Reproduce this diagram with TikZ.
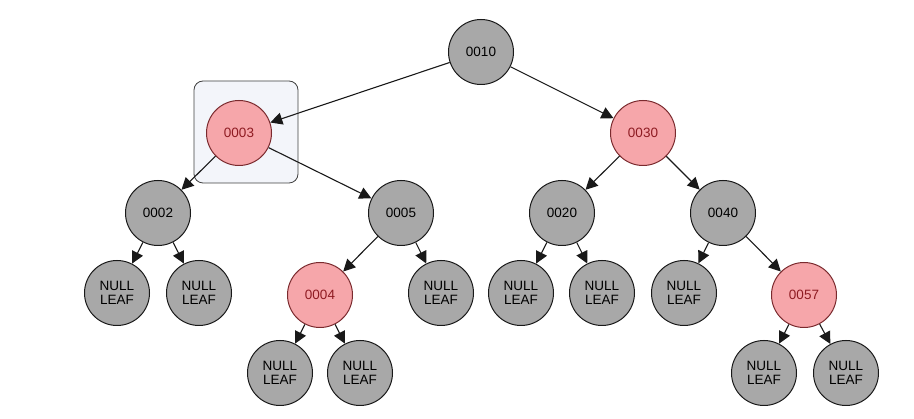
\documentclass[tikz,border=0pt]{standalone}
\usepackage{fontspec}
\setmainfont{Liberation Sans}
\usetikzlibrary{arrows.meta}
\definecolor{nodegray}{HTML}{A8A8A8}
\definecolor{nodered}{HTML}{F6A6AA}
\definecolor{redtext}{HTML}{8E1B22}
\definecolor{redborder}{HTML}{7A2A2E}
\definecolor{boxfill}{HTML}{F3F5FA}
\tikzset{
  gnode/.style={circle, draw=black!90, line width=1pt, fill=nodegray, minimum size=65pt, inner sep=0pt, font=\fontsize{13.5}{14.5}\selectfont, align=center},
  rnode/.style={gnode, fill=nodered, draw=redborder, text=redtext},
  edge/.style={draw=black!90, line width=1.1pt, -{Triangle[length=12pt,width=12pt]}}
}
\begin{document}
\begin{tikzpicture}[x=1pt,y=-1pt]
\useasboundingbox (0,0) rectangle (914,419);
\node[draw=black!75, fill=boxfill, rounded corners=9pt, line width=0.8pt, minimum width=104pt, minimum height=102pt] (hl) at (246,132) {};
\node[gnode] (n10) at (481,52) {0010};
\node[rnode] (n3) at (239,133) {0003};
\node[rnode] (n30) at (643,133) {0030};
\node[gnode] (n2) at (158,213) {0002};
\node[gnode] (n5) at (401,213) {0005};
\node[gnode] (n20) at (562,213) {0020};
\node[gnode] (n40) at (723,213) {0040};
\node[gnode] (l1) at (117,293) {NULL\\LEAF};
\node[gnode] (l2) at (199,293) {NULL\\LEAF};
\node[rnode] (n4) at (320,295) {0004};
\node[gnode] (l3) at (441,293) {NULL\\LEAF};
\node[gnode] (l4) at (521,293) {NULL\\LEAF};
\node[gnode] (l5) at (602,293) {NULL\\LEAF};
\node[gnode] (l6) at (684,293) {NULL\\LEAF};
\node[rnode] (n57) at (804,295) {0057};
\node[gnode] (l7) at (280,373) {NULL\\LEAF};
\node[gnode] (l8) at (360,373) {NULL\\LEAF};
\node[gnode] (l9) at (764,373) {NULL\\LEAF};
\node[gnode] (l10) at (846,373) {NULL\\LEAF};
\draw[edge] (n10) -- (n3);
\draw[edge] (n10) -- (n30);
\draw[edge] (n3) -- (n2);
\draw[edge] (n3) -- (n5);
\draw[edge] (n30) -- (n20);
\draw[edge] (n30) -- (n40);
\draw[edge] (n2) -- (l1);
\draw[edge] (n2) -- (l2);
\draw[edge] (n5) -- (n4);
\draw[edge] (n5) -- (l3);
\draw[edge] (n20) -- (l4);
\draw[edge] (n20) -- (l5);
\draw[edge] (n40) -- (l6);
\draw[edge] (n40) -- (n57);
\draw[edge] (n4) -- (l7);
\draw[edge] (n4) -- (l8);
\draw[edge] (n57) -- (l9);
\draw[edge] (n57) -- (l10);
\end{tikzpicture}
\end{document}
